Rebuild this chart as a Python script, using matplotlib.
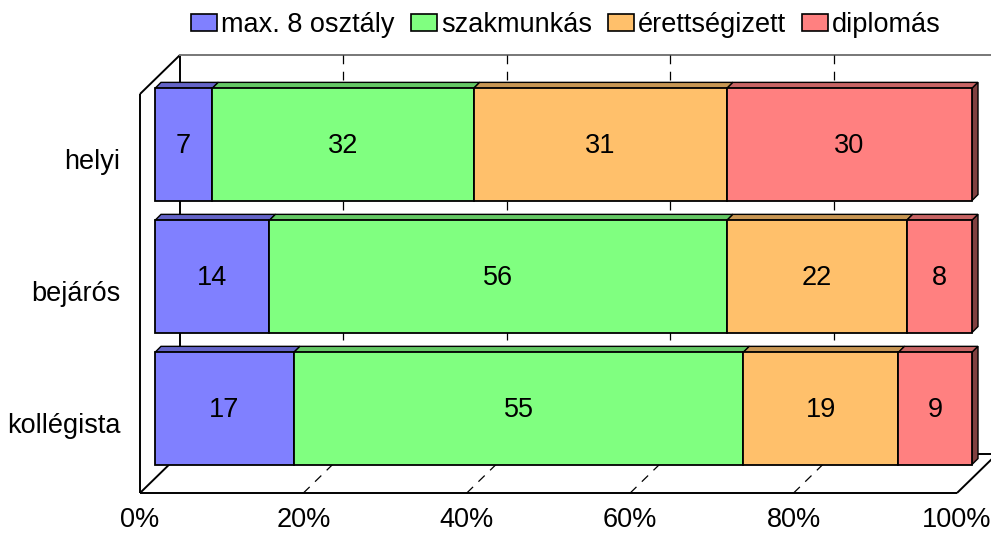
import matplotlib
matplotlib.use("Agg")
import matplotlib.pyplot as plt
from matplotlib.patches import Polygon, Patch
from matplotlib.transforms import offset_copy
import numpy as np

categories = ["helyi", "bejárós", "kollégista"]
series_names = ["max. 8 osztály", "szakmunkás", "érettségizett", "diplomás"]
values = {
    "max. 8 osztály": [7, 14, 17],
    "szakmunkás": [32, 56, 55],
    "érettségizett": [31, 22, 19],
    "diplomás": [30, 8, 9],
}
x_ticks = [0, 20, 40, 60, 80, 100]
x_tick_labels = ["0%", "20%", "40%", "60%", "80%", "100%"]

face_colors = ["#8080FF", "#80FF80", "#FFC06B", "#FF8080"]

def shade(hexc, f):
    c = np.array(matplotlib.colors.to_rgb(hexc)) * f
    return tuple(np.clip(c, 0, 1))

plt.rcParams['font.family'] = ['Liberation Sans', 'DejaVu Sans']
FS = 19.5

W, H = 991, 534
fig = plt.figure(figsize=(W / 100, H / 100), dpi=100)
left_px, right_px, top_px, bot_px = 140, 957, 94, 493
ax = fig.add_axes([left_px / W, (H - bot_px) / H, (right_px - left_px) / W, (bot_px - top_px) / H])
ybot, ytop = 2.527, -0.496
ax.set_xlim(0, 100)
ax.set_ylim(ybot, ytop)
for s in ax.spines.values():
    s.set_visible(False)

ppx = (right_px - left_px) / 100.0
ppy = (bot_px - top_px) / (ybot - ytop)

def dxd(px):
    return px / ppx

def dyd(px):  # upward pixels -> data (inverted axis)
    return -px / ppy

# walls
Dx, Dy = dxd(40), dyd(39)
lk = dict(color="black", lw=1.4, clip_on=False, zorder=1, solid_capstyle="butt")
ax.plot([0, 0], [ybot, ytop], **lk)
ax.plot([0, Dx], [ytop, ytop + Dy], **lk)
ax.plot([Dx, Dx], [ytop + Dy, ybot + Dy], **lk)
ax.plot([0, 100], [ybot, ybot], **lk)
ax.plot([Dx, 100 + Dx], [ybot + Dy, ybot + Dy], **lk)
ax.plot([0, Dx], [ybot, ybot + Dy], **lk)
ax.plot([100, 100 + Dx], [ybot, ybot + Dy], **lk)
ax.plot([Dx, 100 + Dx], [ytop + Dy, ytop + Dy], color="#777777", lw=1.4, clip_on=False, zorder=1)
ax.plot([100 + Dx, 100 + Dx], [ytop + Dy, ybot + Dy], color="#777777", lw=1.4, clip_on=False, zorder=1)
for g in x_ticks[1:-1]:
    ax.plot([g + Dx, g + Dx], [ytop + Dy, ybot + Dy], color="black", lw=0.9,
            ls=(0, (7, 6)), clip_on=False, zorder=1)
    ax.plot([g, g + Dx], [ybot, ybot + Dy], color="black", lw=0.9,
            ls=(0, (7, 6)), clip_on=False, zorder=1)

# bars
off = offset_copy(ax.transData, fig=fig, x=15, y=15, units='dots')
ypos = np.arange(len(categories))
bh = 0.85
ddx, ddy = dxd(6), dyd(6)
lefts = np.zeros(len(categories))
for i, name in enumerate(series_names):
    vals = np.array(values[name], dtype=float)
    fc = face_colors[i]
    ax.barh(ypos, vals, left=lefts, height=bh, color=fc, edgecolor="black",
            linewidth=1.3, transform=off, zorder=3, clip_on=False)
    for j in range(len(categories)):
        l, w, y = lefts[j], vals[j], ypos[j]
        yt = y - bh / 2
        top = Polygon([(l, yt), (l + w, yt), (l + w + ddx, yt + ddy), (l + ddx, yt + ddy)],
                      closed=True, facecolor=shade(fc, 0.78), edgecolor="black", lw=1.0,
                      transform=off, zorder=2.5, clip_on=False)
        ax.add_patch(top)
        if i == len(series_names) - 1:
            xr = l + w
            side = Polygon([(xr, yt), (xr, yt + bh), (xr + ddx, yt + bh + ddy), (xr + ddx, yt + ddy)],
                           closed=True, facecolor=shade(fc, 0.5), edgecolor="black", lw=1.0,
                           transform=off, zorder=2.5, clip_on=False)
            ax.add_patch(side)
        ax.text(l + w / 2, y + dyd(-2), f"{int(vals[j])}", transform=off, ha="center", va="center",
                fontsize=FS, zorder=4)
    lefts = lefts + vals

ax.set_xticks(x_ticks)
ax.set_xticklabels(x_tick_labels, fontsize=FS)
ax.set_yticks(ypos)
ax.set_yticklabels(categories, fontsize=FS)
ax.tick_params(axis="x", length=0, pad=10)
ax.tick_params(axis="y", length=0, pad=14)

handles = [Patch(facecolor=face_colors[i], edgecolor="black", lw=1.2) for i in range(4)]
fig.legend(handles, series_names, ncol=4, loc="center", bbox_to_anchor=(566 / W, 1 - 25 / H),
           frameon=False, fontsize=FS, handlelength=0.95, handleheight=0.6,
           handletextpad=0.15, columnspacing=0.6, borderaxespad=0, borderpad=0)

fig.savefig("out.png", dpi=100)
